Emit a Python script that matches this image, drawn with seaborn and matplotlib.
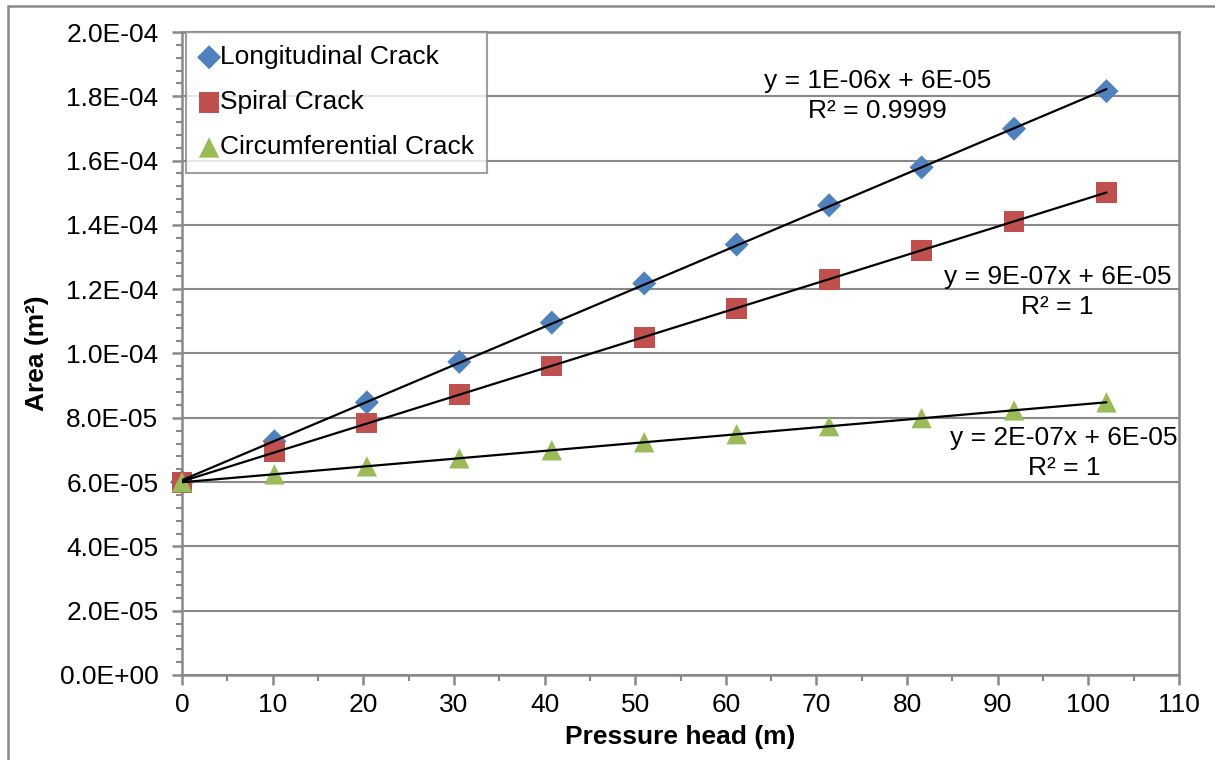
import numpy as np
import matplotlib
matplotlib.use("Agg")
import matplotlib.pyplot as plt
from matplotlib.patches import Rectangle
from matplotlib.ticker import MultipleLocator, FuncFormatter
import seaborn as sns

# Pressure head (m) and measured crack opening area (m^2)
head = [0, 10.2, 20.4, 30.6, 40.8, 51.0, 61.2, 71.4, 81.6, 91.8, 102.0]
longitudinal = [6.0e-5, 7.27e-5, 8.48e-5, 9.74e-5, 1.096e-4, 1.218e-4,
                1.339e-4, 1.461e-4, 1.579e-4, 1.699e-4, 1.816e-4]
spiral = [6.0e-5, 6.94e-5, 7.84e-5, 8.72e-5, 9.61e-5, 1.051e-4,
          1.141e-4, 1.231e-4, 1.321e-4, 1.411e-4, 1.501e-4]
circumferential = [6.0e-5, 6.24e-5, 6.49e-5, 6.74e-5, 6.99e-5, 7.24e-5,
                   7.49e-5, 7.74e-5, 7.99e-5, 8.23e-5, 8.48e-5]

series_names = ["Longitudinal Crack", "Spiral Crack", "Circumferential Crack"]
trend_labels = ["y = 1E-06x + 6E-05\nR² = 0.9999",
                "y = 9E-07x + 6E-05\nR² = 1",
                "y = 2E-07x + 6E-05\nR² = 1"]

sns.set_style("white")
plt.rcParams["font.family"] = ["Liberation Sans", "DejaVu Sans"]
plt.rcParams["text.color"] = "black"
plt.rcParams["axes.labelcolor"] = "black"

GRAY = "#898989"
FS = 19

fig = plt.figure(figsize=(12.15, 7.6), dpi=100)
ax = fig.add_axes([182 / 1215, 1 - 675 / 760, (1179 - 182) / 1215, (675 - 32) / 760])

styles = [
    dict(marker="D", color="#4F81BD", s=150),
    dict(marker="s", color="#C0504D", s=225),
    dict(marker="^", color="#9BBB59", s=215),
]

for name, vals, st in zip(series_names, [longitudinal, spiral, circumferential], styles):
    sns.scatterplot(x=head, y=vals, ax=ax, marker=st["marker"], color=st["color"],
                    s=st["s"], edgecolor="none", linewidth=0, label=name, zorder=3,
                    clip_on=False)
    sns.regplot(x=head, y=vals, ax=ax, scatter=False, ci=None, truncate=True,
                color="black", line_kws=dict(lw=1.6, zorder=4))

# Trendline equations
text_pos = [(76.7, 1.80e-4), (96.6, 1.19e-4), (97.3, 6.91e-5)]
for (tx, ty), lab in zip(text_pos, trend_labels):
    ax.text(tx, ty, lab, ha="center", va="center", multialignment="center",
            fontsize=FS, linespacing=1.32, zorder=5, color="black")

ax.set_xlim(0, 110)
ax.set_ylim(0, 2.0e-4)
ax.xaxis.set_major_locator(MultipleLocator(10))
ax.xaxis.set_minor_locator(MultipleLocator(5))
ax.yaxis.set_major_locator(MultipleLocator(2e-5))
ax.yaxis.set_minor_locator(MultipleLocator(4e-6))
ax.yaxis.set_major_formatter(FuncFormatter(lambda v, p: "{:.1E}".format(v)))

ax.grid(axis="y", which="major", color=GRAY, lw=1.5)
ax.grid(axis="x", visible=False)
ax.set_axisbelow(True)
for sp in ax.spines.values():
    sp.set_visible(True)
    sp.set_color(GRAY)
    sp.set_linewidth(1.8)

ax.tick_params(axis="both", which="major", direction="out", length=7, width=1.8,
               color=GRAY, labelcolor="black", labelsize=FS, pad=6,
               bottom=True, left=True)
ax.tick_params(axis="y", which="major", pad=10)
ax.tick_params(axis="both", which="minor", direction="out", length=4, width=1.5,
               color=GRAY, bottom=True, left=True)

ax.set_xlabel("Pressure head (m)", fontsize=FS, fontweight="bold", labelpad=6)
ax.set_ylabel("Area (m²)", fontsize=FS, fontweight="bold", labelpad=8)

leg = ax.legend(loc="upper left", bbox_to_anchor=(0.004, 1.0), borderaxespad=0,
                fontsize=FS, frameon=True, fancybox=False, handletextpad=0.05,
                handlelength=0.75, borderpad=0.5, labelspacing=0.8)
leg.get_frame().set_edgecolor(GRAY)
leg.get_frame().set_linewidth(1.5)
for t in leg.get_texts():
    t.set_color("black")

# Chart border around the whole figure area
fig.add_artist(Rectangle((8 / 1215, -0.1), 1.2, 0.1 + 1 - 6 / 760,
                         transform=fig.transFigure, fill=False,
                         edgecolor=GRAY, lw=1.8, clip_on=False))

fig.savefig("out.png", dpi=100)
